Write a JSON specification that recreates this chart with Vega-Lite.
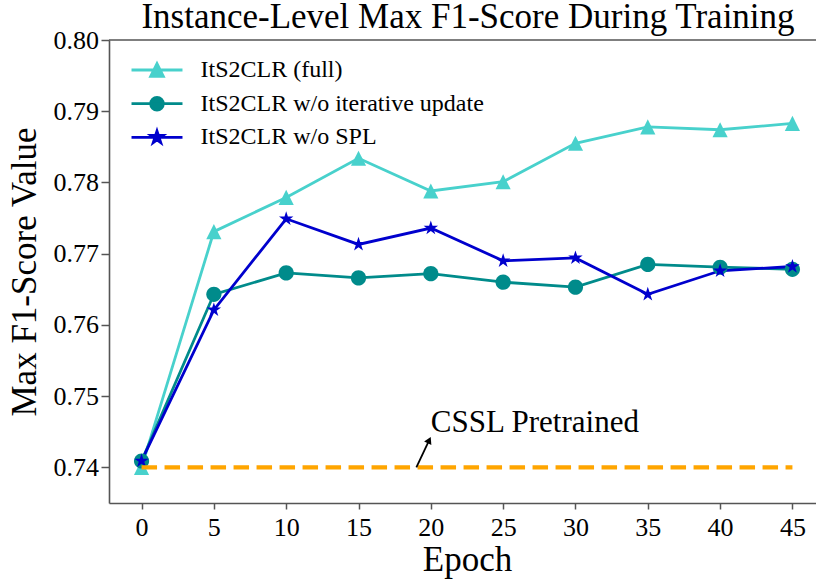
{
  "$schema": "https://vega.github.io/schema/vega-lite/v6.json",
  "width": 707,
  "height": 463,
  "autosize": {"type": "none"},
  "padding": {"left": 109, "top": 40, "right": 0, "bottom": 79},
  "background": "white",
  "title": {
    "text": "Instance-Level Max F1-Score During Training",
    "fontSize": 35, "font": "Liberation Serif", "fontWeight": "normal",
    "anchor": "middle", "frame": "group", "baseline": "alphabetic",
    "offset": 0, "dx": 5.5, "dy": 36, "color": "black"
  },
  "datasets": {
    "series": [
      {"series": "ItS2CLR (full)", "epoch": 0, "value": 0.7400},
      {"series": "ItS2CLR (full)", "epoch": 5, "value": 0.7731},
      {"series": "ItS2CLR (full)", "epoch": 10, "value": 0.7779},
      {"series": "ItS2CLR (full)", "epoch": 15, "value": 0.7834},
      {"series": "ItS2CLR (full)", "epoch": 20, "value": 0.7788},
      {"series": "ItS2CLR (full)", "epoch": 25, "value": 0.7801},
      {"series": "ItS2CLR (full)", "epoch": 30, "value": 0.7855},
      {"series": "ItS2CLR (full)", "epoch": 35, "value": 0.7878},
      {"series": "ItS2CLR (full)", "epoch": 40, "value": 0.7874},
      {"series": "ItS2CLR (full)", "epoch": 45, "value": 0.7883},
      {"series": "ItS2CLR w/o iterative update", "epoch": 0, "value": 0.7409},
      {"series": "ItS2CLR w/o iterative update", "epoch": 5, "value": 0.7643},
      {"series": "ItS2CLR w/o iterative update", "epoch": 10, "value": 0.7673},
      {"series": "ItS2CLR w/o iterative update", "epoch": 15, "value": 0.7666},
      {"series": "ItS2CLR w/o iterative update", "epoch": 20, "value": 0.7672},
      {"series": "ItS2CLR w/o iterative update", "epoch": 25, "value": 0.7660},
      {"series": "ItS2CLR w/o iterative update", "epoch": 30, "value": 0.7653},
      {"series": "ItS2CLR w/o iterative update", "epoch": 35, "value": 0.7685},
      {"series": "ItS2CLR w/o iterative update", "epoch": 40, "value": 0.7681},
      {"series": "ItS2CLR w/o iterative update", "epoch": 45, "value": 0.7678},
      {"series": "ItS2CLR w/o SPL", "epoch": 0, "value": 0.7409},
      {"series": "ItS2CLR w/o SPL", "epoch": 5, "value": 0.7621},
      {"series": "ItS2CLR w/o SPL", "epoch": 10, "value": 0.7749},
      {"series": "ItS2CLR w/o SPL", "epoch": 15, "value": 0.7713},
      {"series": "ItS2CLR w/o SPL", "epoch": 20, "value": 0.7736},
      {"series": "ItS2CLR w/o SPL", "epoch": 25, "value": 0.7690},
      {"series": "ItS2CLR w/o SPL", "epoch": 30, "value": 0.7694},
      {"series": "ItS2CLR w/o SPL", "epoch": 35, "value": 0.7643},
      {"series": "ItS2CLR w/o SPL", "epoch": 40, "value": 0.7676},
      {"series": "ItS2CLR w/o SPL", "epoch": 45, "value": 0.7682}
    ],
    "baseline": [{"epoch": 0, "end": 45, "value": 0.74}],
    "arrow": [{"epoch": 19, "value": 0.74, "x1": 19.89, "y1": 0.74383}],
    "note": [{"epoch": 20, "value": 0.745, "label": "CSSL Pretrained"}]
  },
  "layer": [
    {
      "data": {"name": "series"},
      "mark": {"type": "line", "strokeWidth": 2.8},
      "encoding": {
        "x": {
          "field": "epoch", "type": "quantitative",
          "scale": {"domain": [-2.25, 46.63], "nice": false, "zero": false},
          "axis": {
            "values": [0, 5, 10, 15, 20, 25, 30, 35, 40, 45],
            "title": "Epoch", "tickSize": 6, "labelPadding": 5,
            "titleX": 358, "titleY": 67, "titleAlign": "center", "titleBaseline": "alphabetic",
            "labelFlush": false, "labelOverlap": false
          }
        },
        "y": {
          "field": "value", "type": "quantitative",
          "scale": {"domain": [0.735, 0.8], "nice": false, "zero": false},
          "axis": {
            "values": [0.74, 0.75, 0.76, 0.77, 0.78, 0.79, 0.8], "format": ".2f",
            "title": "Max F1-Score Value", "tickSize": 8, "labelPadding": 2.5,
            "titleX": -74, "titleY": 231.5, "titleAngle": -90, "titleAlign": "center", "titleBaseline": "alphabetic",
            "labelFlush": false, "labelOverlap": false
          }
        },
        "color": {
          "field": "series", "type": "nominal",
          "scale": {
            "domain": ["ItS2CLR (full)", "ItS2CLR w/o iterative update", "ItS2CLR w/o SPL"],
            "range": ["#48D1CC", "#008B8B", "#0000CD"]
          },
          "legend": {
            "title": null,
            "symbolType": "M-4.03,0H4.03",
            "encode": {
              "symbols": {
                "update": {
                  "shape": {"signal": "datum.value === 'ItS2CLR (full)' ? 'M-4.03,0H4.03M0,-1L-1,1L1,1Z' : datum.value === 'ItS2CLR w/o iterative update' ? 'M-4.03,0H4.03M-1,0A1,1,0,1,0,1,0A1,1,0,1,0,-1,0Z' : 'M-4.03,0H4.03M0,-1L0.2245,-0.309L0.951,-0.309L0.363,0.118L0.588,0.809L0,0.382L-0.588,0.809L-0.363,0.118L-0.951,-0.309L-0.2245,-0.309Z'"},
                  "fill": {"scale": "color", "field": "value"},
                  "stroke": {"scale": "color", "field": "value"},
                  "strokeWidth": {"value": 2.8},
                  "opacity": {"value": 1}
                }
              }
            }
          }
        }
      }
    },
    {
      "data": {"name": "series"},
      "transform": [{"filter": "datum.series === 'ItS2CLR (full)'"}],
      "mark": {"type": "point", "filled": true, "opacity": 1, "size": 230, "shape": "M0,-1L-1,1L1,1Z", "color": "#48D1CC"},
      "encoding": {
        "x": {"field": "epoch", "type": "quantitative"},
        "y": {"field": "value", "type": "quantitative"}
      }
    },
    {
      "data": {"name": "series"},
      "transform": [{"filter": "datum.series === 'ItS2CLR w/o iterative update'"}],
      "mark": {"type": "point", "filled": true, "opacity": 1, "size": 230, "shape": "M-1,0A1,1,0,1,0,1,0A1,1,0,1,0,-1,0Z", "color": "#008B8B"},
      "encoding": {
        "x": {"field": "epoch", "type": "quantitative"},
        "y": {"field": "value", "type": "quantitative"}
      }
    },
    {
      "data": {"name": "series"},
      "transform": [{"filter": "datum.series === 'ItS2CLR w/o SPL'"}],
      "mark": {"type": "point", "filled": true, "opacity": 1, "size": 230, "shape": "M0,-1L0.2245,-0.309L0.951,-0.309L0.363,0.118L0.588,0.809L0,0.382L-0.588,0.809L-0.363,0.118L-0.951,-0.309L-0.2245,-0.309Z", "color": "#0000CD"},
      "encoding": {
        "x": {"field": "epoch", "type": "quantitative"},
        "y": {"field": "value", "type": "quantitative"}
      }
    },
    {
      "data": {"name": "baseline"},
      "mark": {"type": "rule", "color": "#FFA500", "strokeWidth": 4.2, "strokeDash": [15.5, 7.5]},
      "encoding": {
        "x": {"field": "epoch", "type": "quantitative"},
        "x2": {"field": "end"},
        "y": {"field": "value", "type": "quantitative"}
      }
    },
    {
      "data": {"name": "baseline"},
      "mark": {"type": "rule", "color": "#555555", "strokeWidth": 1.6},
      "encoding": {
        "y": {"datum": 0.8, "type": "quantitative"}
      }
    },
    {
      "data": {"name": "arrow"},
      "mark": {"type": "rule", "color": "black", "strokeWidth": 1.8},
      "encoding": {
        "x": {"field": "epoch", "type": "quantitative"},
        "y": {"field": "value", "type": "quantitative"},
        "x2": {"field": "x1"},
        "y2": {"field": "y1"}
      }
    },
    {
      "data": {"name": "arrow"},
      "mark": {"type": "point", "shape": "triangle-up", "filled": true, "color": "black", "opacity": 1, "size": 64, "angle": 25.5},
      "encoding": {
        "x": {"field": "x1", "type": "quantitative"},
        "y": {"field": "y1", "type": "quantitative"}
      }
    },
    {
      "data": {"name": "note"},
      "mark": {"type": "text", "align": "left", "baseline": "alphabetic", "fontSize": 31, "font": "Liberation Serif", "color": "black"},
      "encoding": {
        "x": {"field": "epoch", "type": "quantitative"},
        "y": {"field": "value", "type": "quantitative"},
        "text": {"field": "label"}
      }
    }
  ],
  "config": {
    "view": {"stroke": null},
    "font": "Liberation Serif",
    "axis": {
      "domainColor": "#555555", "domainWidth": 1.6,
      "tickColor": "#555555", "tickWidth": 1.5,
      "labelColor": "black", "labelFont": "Liberation Serif", "labelFontSize": 26,
      "grid": false,
      "titleFont": "Liberation Serif", "titleFontSize": 35, "titleFontWeight": "normal", "titleColor": "black"
    },
    "legend": {
      "orient": "none", "legendX": 36, "legendY": 18,
      "padding": 0, "labelFont": "Liberation Serif", "labelFontSize": 24, "labelColor": "black",
      "labelOffset": 31.5, "symbolSize": 160, "symbolStrokeWidth": 2.8, "rowPadding": 9.7,
      "labelLimit": 400
    }
  }
}
